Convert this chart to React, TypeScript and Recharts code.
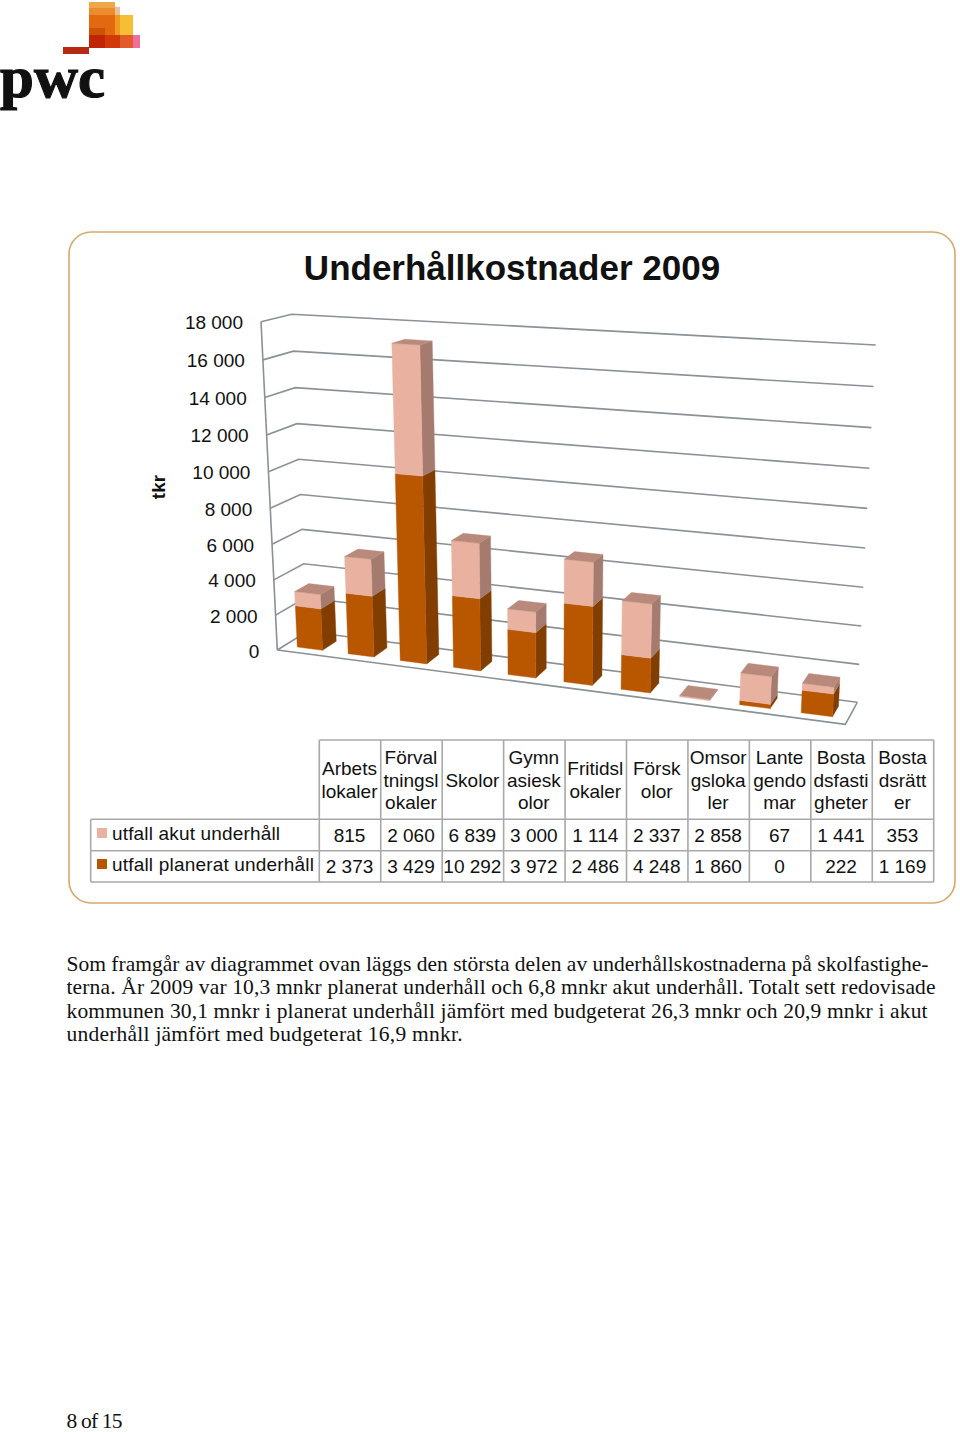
import React from "react";
import { BarChart, Bar, XAxis, YAxis, CartesianGrid } from "recharts";

const categoryNames = ["Arbetslokaler","Förvaltningslokaler","Skolor","Gymnasieskolor","Fritidslokaler","Förskolor","Omsorgslokaler","Lantegendomar","Bostadsfastigheter","Bostadsrätter"];
const categoryLines = [["Arbets","lokaler"],["Förval","tningsl","okaler"],["Skolor"],["Gymn","asiesk","olor"],["Fritidsl","okaler"],["Försk","olor"],["Omsor","gsloka","ler"],["Lante","gendo","mar"],["Bosta","dsfasti","gheter"],["Bosta","dsrätt","er"]];
const akut = [815,2060,6839,3000,1114,2337,2858,67,1441,353];
const planerat = [2373,3429,10292,3972,2486,4248,1860,0,222,1169];
const yTicks = [0,2000,4000,6000,8000,10000,12000,14000,16000,18000];
const seriesNames = ["utfall akut underhåll","utfall planerat underhåll"];
const bodyLines = [
  "Som framgår av diagrammet ovan läggs den största delen av underhållskostnaderna på skolfastighe-",
  "terna. År 2009 var 10,3 mnkr planerat underhåll och 6,8 mnkr akut underhåll.  Totalt sett redovisade",
  "kommunen 30,1 mnkr i planerat underhåll jämfört med budgeterat 26,3 mnkr och 20,9  mnkr i akut",
  "underhåll jämfört med budgeterat 16,9  mnkr.",
];
const data = categoryNames.map((name, i) => ({ name, akut: akut[i], planerat: planerat[i] }));

const L = 300, T = 300, W = 500, H = 400, B = T + H;
type P = [number, number];
const FLB: P = [277.3, 650], FLT: P = [261, 321.7], BLB: P = [307, 631.5], BLT: P = [291.7, 314.3];
const FRB: P = [845.3, 724.3], FRT: P = [864.3, 354.3], BRB: P = [857.3, 702.3], BRT: P = [875.7, 345];
const KU = -0.112, KV = -0.05, D0 = 0.25, D1 = 0.73;
const warp = (t: number, k: number) => (t * (1 + k)) / (1 + k * t);
const mix = (a: P, b: P, t: number): P => [a[0] + (b[0] - a[0]) * t, a[1] + (b[1] - a[1]) * t];
const proj = (u: number, v: number, d: number): P => {
  const uu = warp(u, KU), vv = warp(v, KV);
  const fb = mix(FLB, FRB, uu), ft = mix(FLT, FRT, uu), bb = mix(BLB, BRB, uu), bt = mix(BLT, BRT, uu);
  return mix(mix(fb, ft, vv), mix(bb, bt, vv), d);
};
const pts = (a: P[]) => a.map((p) => `${p[0].toFixed(2)},${p[1].toFixed(2)}`).join(" ");
const COL: Record<string, { front: string; side: string; top: string }> = {
  akut: { front: "#E8B1A0", side: "#A67B6F", top: "#B98A7C" },
  planerat: { front: "#B85700", side: "#823E00", top: "#B98A7C" },
};
const Face = ({ p, c }: { p: P[]; c: string }) => <polygon points={pts(p)} fill={c} stroke={c} strokeWidth={0.4} />;

const Bar3D = (props: any) => {
  const { x, y, width, height, dataKey } = props;
  const u0 = (x - L) / W, u1 = (x + width - L) / W, v1 = (B - y) / H, v0 = (B - y - height) / H;
  const c = COL[dataKey];
  return (
    <g>
      {height > 0 && <Face c={c.side} p={[proj(u1, v0, D0), proj(u1, v0, D1), proj(u1, v1, D1), proj(u1, v1, D0)]} />}
      {height > 0 && <Face c={c.front} p={[proj(u0, v0, D0), proj(u1, v0, D0), proj(u1, v1, D0), proj(u0, v1, D0)]} />}
      {dataKey === "akut" && <Face c={c.top} p={[proj(u0, v1, D0), proj(u1, v1, D0), proj(u1, v1, D1), proj(u0, v1, D1)]} />}
    </g>
  );
};

const GRID = "#8A9197";
const gridLine = (props: any) => {
  const v = (B - props.y1) / H;
  const a = proj(0, v, 0), b = proj(0, v, 1), c = proj(1, v, 1), d = proj(1, v, 0);
  const line = { fill: "none", stroke: GRID, strokeWidth: 1.6 };
  return (
    <g key={props.key}>
      <polyline points={pts([a, b, c])} {...line} />
      {Math.abs(v) < 0.001 && <polyline points={pts([a, d, c])} {...line} />}
      {Math.abs(v) < 0.001 && <polyline points={pts([a, proj(0, 1, 0)])} {...line} />}
    </g>
  );
};

const AxisTick = (props: any) => {
  const v = (B - props.y) / H;
  const p = proj(0, v, 0);
  const s = String(props.payload.value).replace(/\B(?=(\d{3})+$)/g, " ");
  return (
    <text x={p[0] - 18} y={p[1] + 7.5} textAnchor="end" fontFamily="Liberation Sans" fontSize={19} fill="#111">{s}</text>
  );
};

const fmt = (n: number) => String(n).replace(/\B(?=(\d{3})+$)/g, " ");
const colX = (i: number) => 319.3 + 61.44 * i;
const tableRows = [740, 819.3, 850.7, 882];
const TC = "#A8A8A8";

const Overlay = () => (
  <svg width={960} height={1432} style={{ position: "absolute", left: 0, top: 0 }}>
    {/* logo */}
    <rect x={63} y={47} width={26} height={7} fill="#B62A14" />
    <rect x={89} y={2} width={26} height={6} fill="#F0A64A" />
    <rect x={89} y={8} width={26} height={7} fill="#EC8C2E" />
    <rect x={89} y={15} width={26} height={20} fill="#E2690F" />
    <rect x={115} y={7} width={5} height={8} fill="#EFBE98" />
    <rect x={115} y={15} width={5} height={20} fill="#EE9A20" />
    <rect x={120} y={15} width={13} height={20} fill="#F6BE34" />
    <rect x={89} y={28} width={16} height={7} fill="#CC5206" />
    <rect x={89} y={35} width={16} height={13} fill="#C02606" />
    <rect x={105} y={35} width={15} height={13} fill="#D13A08" />
    <rect x={120} y={35} width={13} height={13} fill="#E2592A" />
    <rect x={133} y={35} width={7} height={13} fill="#EE6E9C" />
    <text x={0} y={97} fontFamily="Liberation Serif" fontWeight="bold" fontSize={60} textLength={105} lengthAdjust="spacingAndGlyphs" fill="#111" stroke="#111" strokeWidth={1.2}>pwc</text>

    <rect x={69} y={232} width={886} height={671} rx={22} ry={22} fill="none" stroke="#D9A868" strokeWidth={1.6} />
    <text x={512} y={280} textAnchor="middle" fontFamily="Liberation Sans" fontWeight="bold" fontSize={35} fill="#111">Underhållkostnader 2009</text>
    <text transform="translate(165,487) rotate(-90)" textAnchor="middle" fontFamily="Liberation Sans" fontWeight="bold" fontSize={19} fill="#111">tkr</text>

    {/* data table */}
    <g stroke={TC} strokeWidth={1.6}>
      <line x1={319.3} y1={tableRows[0]} x2={933.7} y2={tableRows[0]} />
      <line x1={90.7} y1={tableRows[1]} x2={933.7} y2={tableRows[1]} />
      <line x1={90.7} y1={tableRows[2]} x2={933.7} y2={tableRows[2]} />
      <line x1={90.7} y1={tableRows[3]} x2={933.7} y2={tableRows[3]} />
      <line x1={90.7} y1={tableRows[1]} x2={90.7} y2={tableRows[3]} />
      {categoryNames.map((_, i) => <line key={i} x1={colX(i)} y1={tableRows[0]} x2={colX(i)} y2={tableRows[3]} />)}
      <line x1={colX(10)} y1={tableRows[0]} x2={colX(10)} y2={tableRows[3]} />
    </g>
    <g fontFamily="Liberation Sans" fontSize={19} fill="#111" textAnchor="middle">
      {categoryLines.map((ls, i) =>
        ls.map((s, j) => (
          <text key={`${i}-${j}`} x={colX(i) + 30.2} y={780 + 6.5 + (j - (ls.length - 1) / 2) * 22.5}>{s}</text>
        ))
      )}
      {akut.map((n, i) => <text key={i} x={colX(i) + 30.2} y={841.5}>{fmt(n)}</text>)}
      {planerat.map((n, i) => <text key={i} x={colX(i) + 30.2} y={872.5}>{fmt(n)}</text>)}
    </g>
    <rect x={97} y={828} width={10} height={10} fill={COL.akut.front} />
    <rect x={97} y={859} width={10} height={10} fill={COL.planerat.front} />
    <g fontFamily="Liberation Sans" fontSize={19} fill="#111">
      <text x={112} y={840} textLength={168} lengthAdjust="spacing">{seriesNames[0]}</text>
      <text x={112} y={871} textLength={202} lengthAdjust="spacing">{seriesNames[1]}</text>
    </g>

    {/* running text */}
    <g fontFamily="Liberation Serif" fontSize={21.5} fill="#111">
      <text x={66.5} y={970.5} textLength={862} lengthAdjust="spacing">{bodyLines[0]}</text>
      <text x={66.5} y={994} textLength={869} lengthAdjust="spacing">{bodyLines[1]}</text>
      <text x={66.5} y={1017.5} textLength={861} lengthAdjust="spacing">{bodyLines[2]}</text>
      <text x={66.5} y={1041} textLength={396} lengthAdjust="spacing">{bodyLines[3]}</text>
      <text x={66.5} y={1428} textLength={56} lengthAdjust="spacing">8 of 15</text>
    </g>
  </svg>
);

export default function App() {
  return (
    <div style={{ position: "absolute", left: 0, top: 0, width: 960, height: 1432, background: "#fff", overflow: "hidden" }}>
      <BarChart
        width={960}
        height={1432}
        data={data}
        margin={{ left: L - 60, top: T, right: 960 - L - W, bottom: 1432 - B }}
        barCategoryGap="25%"
      >
        <CartesianGrid horizontal={gridLine} vertical={false} />
        <XAxis dataKey="name" hide />
        <YAxis width={60} domain={[0, 18000]} ticks={yTicks} tick={AxisTick} axisLine={false} tickLine={false} interval={0} />
        <Bar dataKey="planerat" stackId="a" isAnimationActive={false} shape={Bar3D} />
        <Bar dataKey="akut" stackId="a" isAnimationActive={false} shape={Bar3D} />
      </BarChart>
      <Overlay />
    </div>
  );
}
